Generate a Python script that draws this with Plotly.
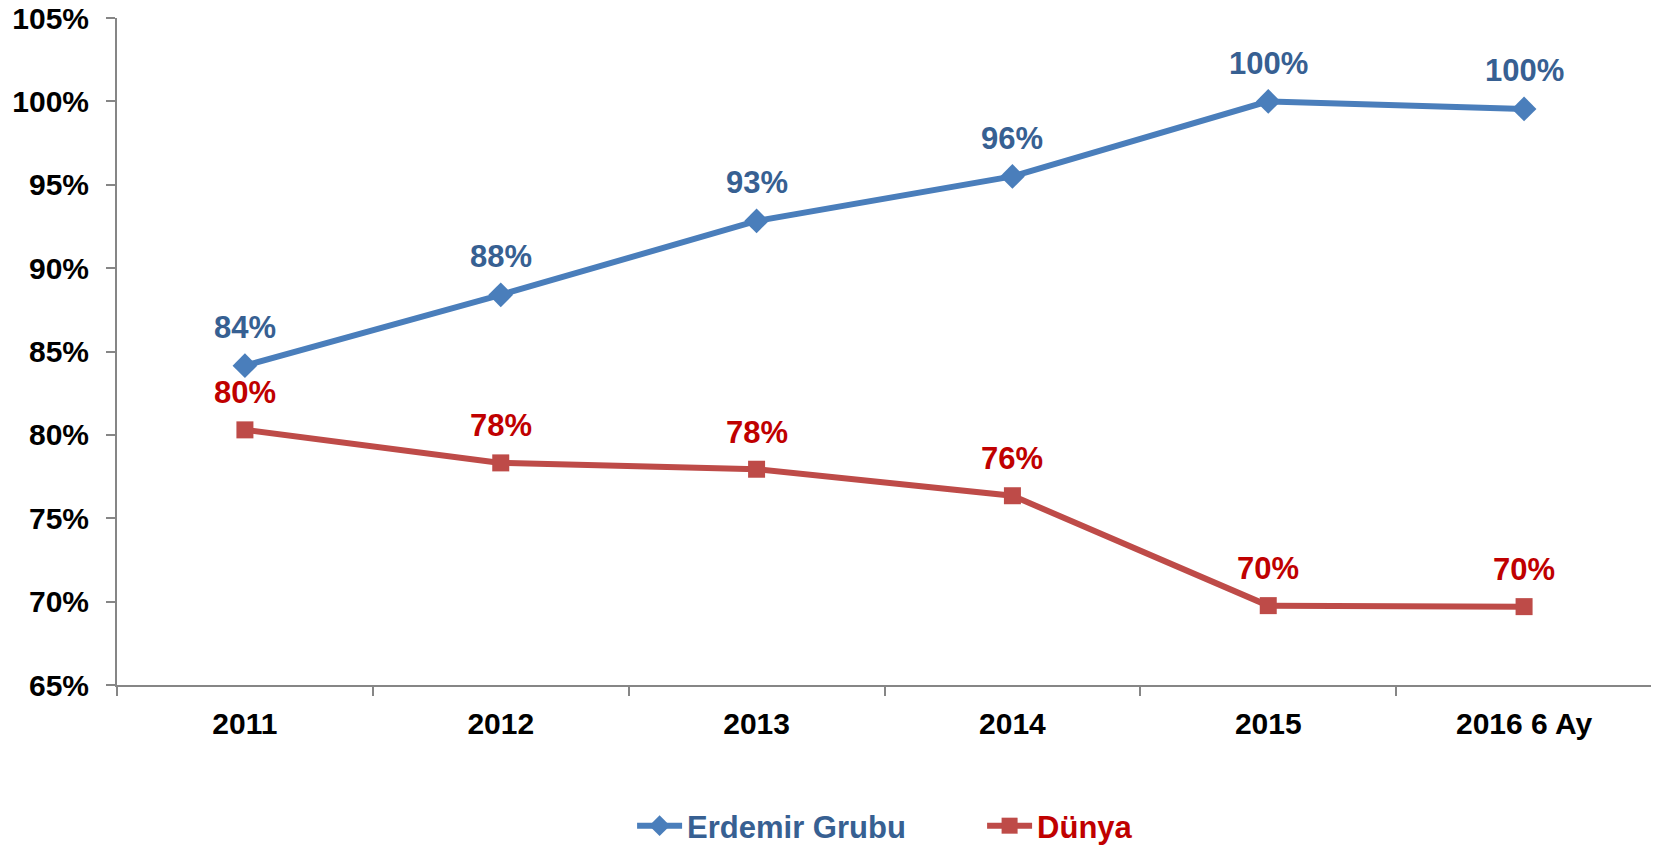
import plotly.graph_objects as go

categories = ["2011", "2012", "2013", "2014", "2015", "2016 6 Ay"]
erdemir = [84.15, 88.4, 92.83, 95.5, 100.0, 99.55]
dunya = [80.3, 78.32, 77.94, 76.35, 69.76, 69.7]
y_ticks = [65, 70, 75, 80, 85, 90, 95, 100, 105]

BLUE_LINE = "#4A7EBB"
BLUE_TEXT = "#376092"
RED_LINE = "#BE4B48"
RED_TEXT = "#C00000"
FONT = "Liberation Sans"

fig = go.Figure()
fig.add_trace(go.Scatter(
    x=categories, y=erdemir, mode="lines+markers", name="Erdemir Grubu",
    line=dict(color=BLUE_LINE, width=6),
    marker=dict(symbol="diamond", size=19, color=BLUE_LINE),
))
fig.add_trace(go.Scatter(
    x=categories, y=dunya, mode="lines+markers",
    name=f"<span style='color:{RED_TEXT}'>Dünya</span>",
    line=dict(color=RED_LINE, width=6),
    marker=dict(symbol="square", size=17, color=RED_LINE),
))

for i, v in enumerate(erdemir):
    fig.add_annotation(x=i, y=v, text=f"<b>{round(v):d}%</b>", showarrow=False,
                       yshift=38, font=dict(family=FONT, size=31, color=BLUE_TEXT))
for i, v in enumerate(dunya):
    fig.add_annotation(x=i, y=v, text=f"<b>{round(v):d}%</b>", showarrow=False,
                       yshift=37, font=dict(family=FONT, size=31, color=RED_TEXT))

fig.update_layout(
    width=1651, height=839,
    margin=dict(l=109, r=7, t=10, b=162, autoexpand=False),
    paper_bgcolor="white", plot_bgcolor="white",
    font=dict(family=FONT, size=30, color="black"),
    showlegend=True,
    legend=dict(
        orientation="h", xref="container", yref="container",
        x=0.59, xanchor="center", y=0.025, yanchor="middle",
        font=dict(family=FONT, size=31, color=BLUE_TEXT, weight="bold"),
        itemwidth=45, traceorder="normal", entrywidth=290,
    ),
)
fig.update_xaxes(
    type="category", range=[-0.5, 5.5], tickson="boundaries",
    ticks="outside", ticklen=9, tickwidth=2, tickcolor="#868686",
    showline=True, linecolor="#868686", linewidth=2, showgrid=False,
    tickfont=dict(family=FONT, size=30, color="black", weight="bold"),
    ticklabelstandoff=11, automargin=False, ticklabeloverflow="allow",
)
fig.update_yaxes(
    range=[65, 105], tickvals=y_ticks, ticktext=[f"{t}%" for t in y_ticks],
    ticks="outside", ticklen=9, tickwidth=2, tickcolor="#868686",
    showline=True, linecolor="#868686", linewidth=2, showgrid=False, zeroline=False,
    tickfont=dict(family=FONT, size=30, color="black", weight="bold"),
    ticklabelstandoff=11, automargin=False, ticklabeloverflow="allow",
)

fig.write_html("out.html")
